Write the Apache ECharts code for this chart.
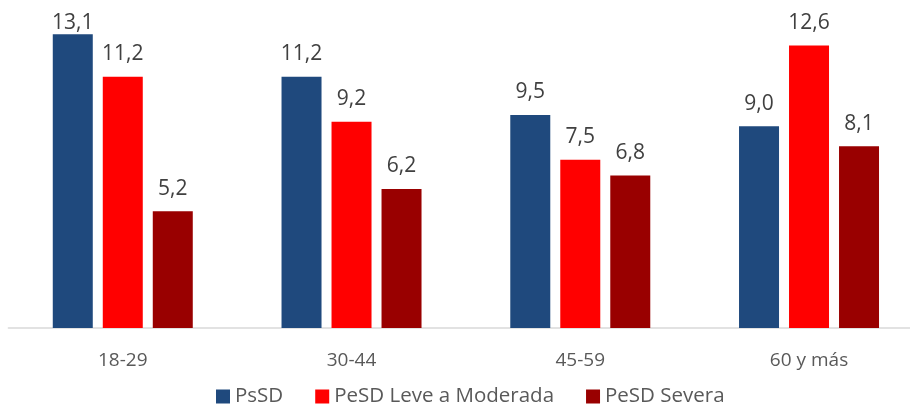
<!DOCTYPE html>
<html>
<head>
<meta charset="utf-8">
<script src="https://cdn.jsdelivr.net/npm/echarts@6/dist/echarts.min.js"></script>
<style>
html,body{margin:0;padding:0;background:#fff;}
#c{width:910px;height:404px;}
</style>
</head>
<body>
<div id="c"></div>
<script>
const categories = ['18-29', '30-44', '45-59', '60 y más'];
const seriesNames = ['PsSD', 'PeSD Leve a Moderada', 'PeSD Severa'];
const psSD = [13.1, 11.2, 9.5, 9.0];
const pesdLeve = [11.2, 9.2, 7.5, 12.6];
const pesdSevera = [5.2, 6.2, 6.8, 8.1];
const colors = ['#1F497D', '#FF0000', '#990000'];

const font = 'Open Sans';
const chart = echarts.init(document.getElementById('c'), null, {renderer: 'canvas'});
// labels that would leave the plot area are kept inside it (as in the original)
const mkData = data => data.map(v => v > 12.8 ? {value: v, label: {distance: 1}} : v);
const mk = (name, data, color) => ({
  name: name,
  type: 'bar',
  data: mkData(data),
  barWidth: 40,
  barGap: '25%',
  itemStyle: {color: color},
  label: {
    show: true,
    position: 'top',
    distance: 12,
    color: '#404040',
    fontFamily: font,
    fontSize: 21,
    formatter: p => p.value.toFixed(1).replace('.', ',')
  }
});
chart.setOption({
  animation: false,
  backgroundColor: '#fff',
  grid: {left: 8.4, top: 14, width: 915, bottom: 76, outerBoundsMode: 'none', containLabel: false},
  legend: {
    data: seriesNames,
    top: 386,
    left: 216,
    padding: 0,
    itemWidth: 14,
    itemHeight: 14,
    itemGap: 32,
    icon: 'rect',
    textStyle: {color: '#595959', fontFamily: font, fontSize: 20.5}
  },
  xAxis: {
    type: 'category',
    data: categories,
    axisLine: {lineStyle: {color: '#d9d9d9', width: 1.5}},
    axisTick: {show: false},
    axisLabel: {color: '#595959', fontFamily: font, fontSize: 19, margin: 23}
  },
  yAxis: {
    type: 'value',
    min: 0,
    max: 14,
    show: false,
    splitLine: {show: false}
  },
  series: [
    mk(seriesNames[0], psSD, colors[0]),
    mk(seriesNames[1], pesdLeve, colors[1]),
    mk(seriesNames[2], pesdSevera, colors[2])
  ]
});
</script>
</body>
</html>
